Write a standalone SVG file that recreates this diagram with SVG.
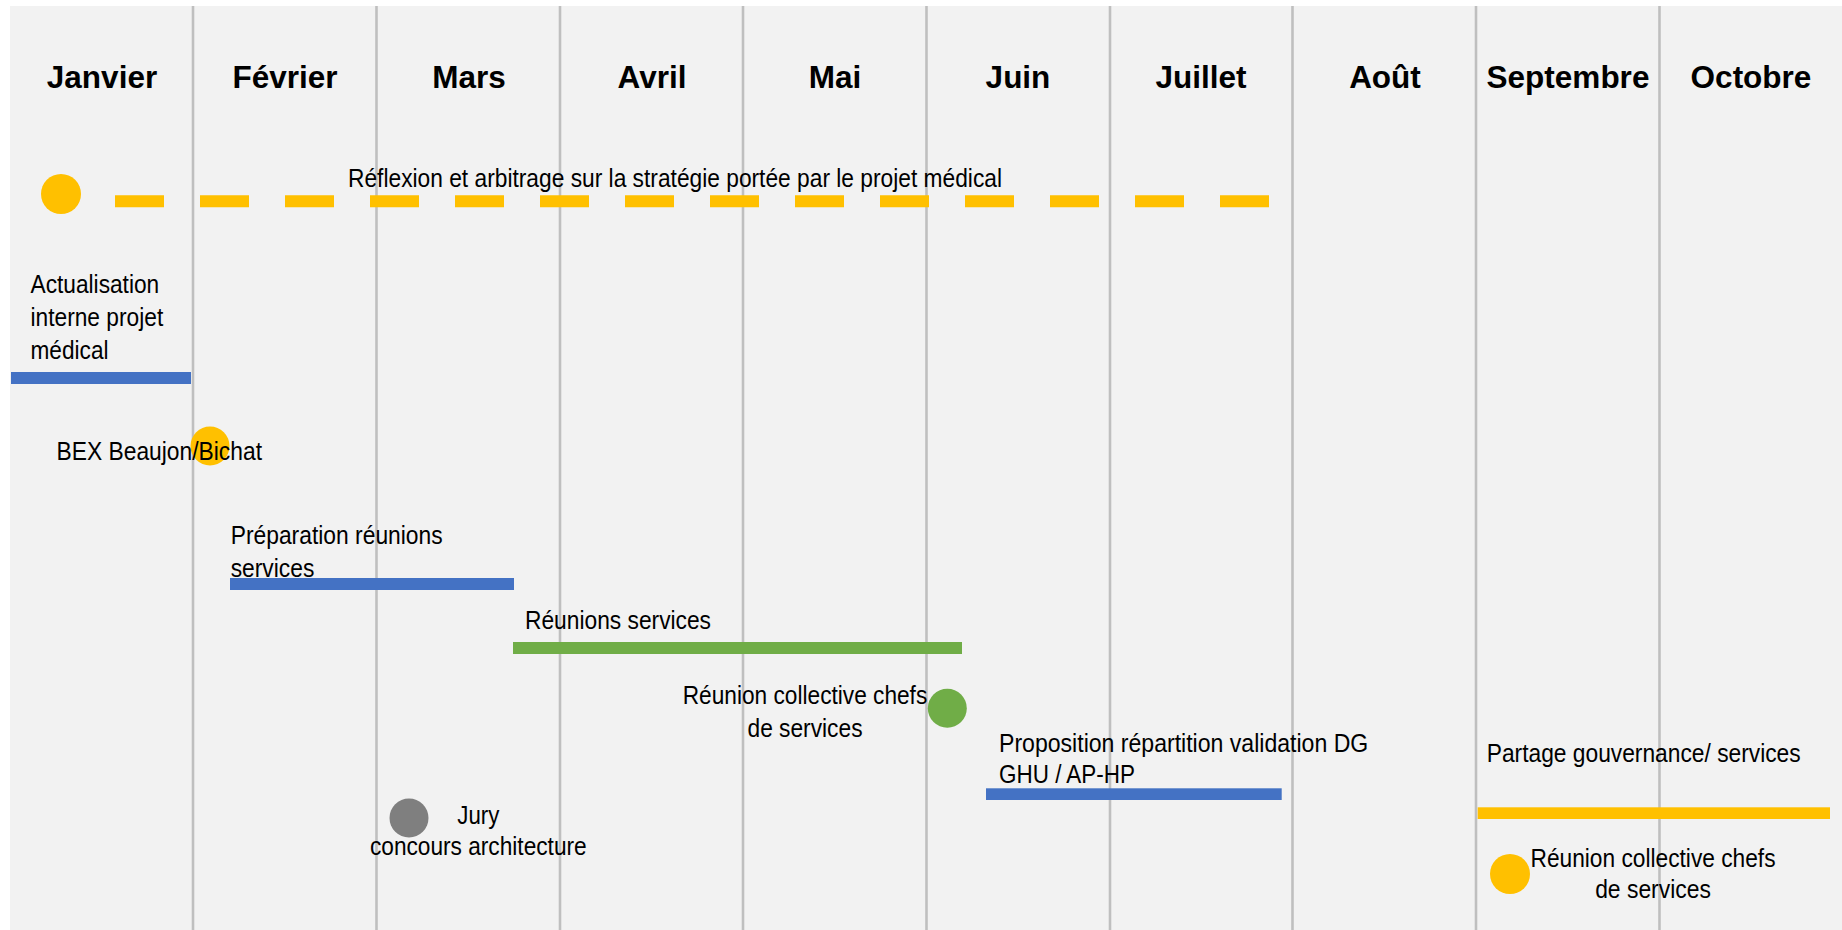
<svg xmlns="http://www.w3.org/2000/svg" width="1842" height="930" viewBox="0 0 1842 930">
  <style>
    .month { font-family: "Liberation Sans", Arial, sans-serif; font-weight: bold; font-size: 31.5px; fill: #000; text-anchor: middle; }
    .lbl { font-family: "Liberation Sans", Arial, sans-serif; font-size: 26px; fill: #000; }
    .mid { text-anchor: middle; }
    .grid { stroke: #bfbfbf; stroke-width: 2.6; }
    .blue { fill: #4472c4; }
    .green { fill: #70ad47; }
    .yellow { fill: #ffc000; }
    .gray { fill: #7f7f7f; }
  </style>
  <rect x="0" y="0" width="1842" height="930" fill="#ffffff"/>
  <rect id="panel" x="10" y="6" width="1832" height="924" fill="#f2f2f2"/>

  <g id="connectors">
    <line class="grid" x1="193" y1="6" x2="193" y2="930"/>
    <line class="grid" x1="376.5" y1="6" x2="376.5" y2="930"/>
    <line class="grid" x1="560" y1="6" x2="560" y2="930"/>
    <line class="grid" x1="743" y1="6" x2="743" y2="930"/>
    <line class="grid" x1="926.5" y1="6" x2="926.5" y2="930"/>
    <line class="grid" x1="1110" y1="6" x2="1110" y2="930"/>
    <line class="grid" x1="1292.5" y1="6" x2="1292.5" y2="930"/>
    <line class="grid" x1="1476" y1="6" x2="1476" y2="930"/>
    <line class="grid" x1="1659.5" y1="6" x2="1659.5" y2="930"/>
  </g>

  <g id="months">
    <text class="month" x="102" y="87.5">Janvier</text>
    <text class="month" x="285" y="87.5">Février</text>
    <text class="month" x="469" y="87.5">Mars</text>
    <text class="month" x="652" y="87.5">Avril</text>
    <text class="month" x="835" y="87.5">Mai</text>
    <text class="month" x="1018" y="87.5">Juin</text>
    <text class="month" x="1201" y="87.5">Juillet</text>
    <text class="month" x="1385" y="87.5">Août</text>
    <text class="month" x="1568" y="87.5">Septembre</text>
    <text class="month" x="1751" y="87.5">Octobre</text>
  </g>

  <g id="reflexion">
    <circle class="yellow" cx="61" cy="194" r="20"/>
    <line x1="115" y1="201.3" x2="1270" y2="201.3" stroke="#ffc000" stroke-width="12" stroke-dasharray="49 36"/>
    <text class="lbl" x="348" y="186.5" textLength="654" lengthAdjust="spacingAndGlyphs">Réflexion et arbitrage sur la stratégie portée par le projet médical</text>
  </g>

  <g id="actualisation">
    <text class="lbl" x="30.5" y="292.7" textLength="128.7" lengthAdjust="spacingAndGlyphs">Actualisation</text>
    <text class="lbl" x="30.5" y="326" textLength="132.7" lengthAdjust="spacingAndGlyphs">interne projet</text>
    <text class="lbl" x="30.5" y="359.3" textLength="78" lengthAdjust="spacingAndGlyphs">médical</text>
    <rect class="blue" x="11" y="372" width="180" height="12"/>
  </g>

  <g id="bex">
    <circle class="yellow" cx="210" cy="446" r="19.5"/>
    <text class="lbl" x="56.5" y="460" textLength="205.5" lengthAdjust="spacingAndGlyphs">BEX Beaujon/Bichat</text>
  </g>

  <g id="preparation">
    <text class="lbl" x="230.7" y="543.5" textLength="212" lengthAdjust="spacingAndGlyphs">Préparation réunions</text>
    <text class="lbl" x="230.7" y="576.5" textLength="83.6" lengthAdjust="spacingAndGlyphs">services</text>
    <rect class="blue" x="230" y="578" width="284" height="12"/>
  </g>

  <g id="reunions">
    <text class="lbl" x="525" y="629.3" textLength="186" lengthAdjust="spacingAndGlyphs">Réunions services</text>
    <rect class="green" x="513" y="642" width="449" height="12"/>
  </g>

  <g id="reunion-collective-1">
    <text class="lbl mid" x="805" y="704" textLength="244.5" lengthAdjust="spacingAndGlyphs">Réunion collective chefs</text>
    <text class="lbl mid" x="805" y="736.7" textLength="115" lengthAdjust="spacingAndGlyphs">de services</text>
    <circle class="green" cx="947.3" cy="708.3" r="19.5"/>
  </g>

  <g id="proposition">
    <text class="lbl" x="999" y="752.3" textLength="369.3" lengthAdjust="spacingAndGlyphs">Proposition répartition validation DG</text>
    <text class="lbl" x="999" y="783.3" textLength="136" lengthAdjust="spacingAndGlyphs">GHU / AP-HP</text>
    <rect class="blue" x="986" y="788.3" width="295.7" height="11.7"/>
  </g>

  <g id="jury">
    <circle class="gray" cx="409" cy="818" r="19.5"/>
    <text class="lbl mid" x="478.3" y="824" textLength="42" lengthAdjust="spacingAndGlyphs">Jury</text>
    <text class="lbl mid" x="478.3" y="855" textLength="216.7" lengthAdjust="spacingAndGlyphs">concours architecture</text>
  </g>

  <g id="partage">
    <text class="lbl" x="1486.7" y="762.3" textLength="314" lengthAdjust="spacingAndGlyphs">Partage gouvernance/ services</text>
    <rect class="yellow" x="1477.7" y="807.3" width="352.3" height="11.7"/>
  </g>

  <g id="reunion-collective-2">
    <circle class="yellow" cx="1510" cy="874" r="20"/>
    <text class="lbl mid" x="1653" y="866.7" textLength="245" lengthAdjust="spacingAndGlyphs">Réunion collective chefs</text>
    <text class="lbl mid" x="1653" y="898.3" textLength="115.7" lengthAdjust="spacingAndGlyphs">de services</text>
  </g>
</svg>
